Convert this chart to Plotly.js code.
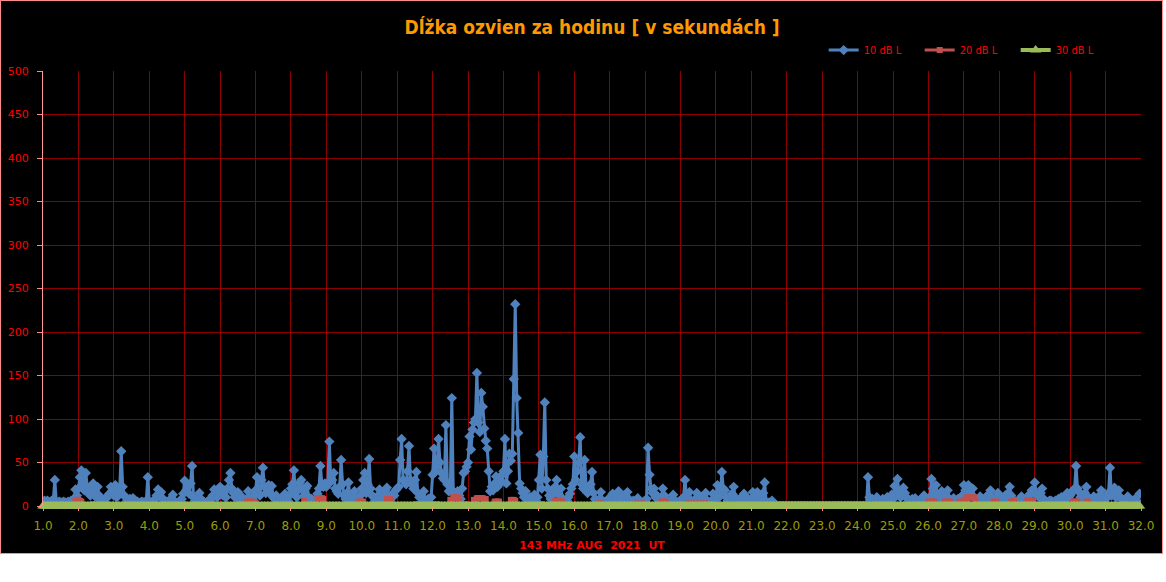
<!DOCTYPE html>
<html>
<head>
<meta charset="utf-8">
<script src="https://cdn.plot.ly/plotly-3.0.1.min.js"></script>
<style>
  html, body { margin: 0; padding: 0; background: #ffffff; }
  #plot { width: 1161px; height: 552px; border: 1px solid #ff8a8a; background: #000; }
</style>
</head>
<body>
<div id="plot"></div>
<script>
// ---- Data: hourly echo durations (seconds), August 2021, 143 MHz ----
const firstDay = 1;
const hoursPerDay = 24;
const seriesNames = ["10 dB L", "20 dB L", "30 dB L"];

// 10 dB L, one array per day (24 hourly values, 00-23 UT)
const d01 = [5,6,5,6,4,5,6,7,30,5,4,5,4,4,5,4,3,5,4,6,5,8,19,12];
const d02 = [20,33,41,25,18,38,22,15,12,23,26,14,10,22,12,8,5,6,4,9,12,14,22,18];
const d03 = [12,24,10,16,20,63,22,12,10,6,5,8,6,9,7,4,5,3,4,5,4,3,6,33];
const d04 = [5,4,3,6,8,12,19,14,16,9,6,4,5,3,6,9,13,5,4,3,5,6,8,14];
const d05 = [29,18,24,14,26,46,10,6,5,8,15,8,4,5,3,4,6,5,8,12,19,14,10,16];
const d06 = [22,15,12,18,10,20,30,38,20,15,10,12,16,8,6,10,5,4,8,17,6,5,8,12];
const d07 = [18,33,20,12,30,44,22,15,20,24,14,23,10,8,12,6,5,8,4,6,14,10,6,12];
const d08 = [20,25,41,15,10,20,27,30,18,12,20,23,10,6,8,5,6,9,14,20,46,24,22,26];
const d09 = [22,26,74,28,30,38,20,17,14,22,53,25,12,8,15,27,10,6,8,17,6,5,8,12];
const d10 = [20,30,38,15,25,54,20,12,10,6,8,12,19,10,6,12,18,21,12,6,10,14,12,18];
const d11 = [20,22,53,77,30,28,25,40,69,30,25,20,30,39,15,10,12,8,17,6,5,8,4,10];
const d12 = [36,66,40,45,77,50,38,32,30,93,25,17,18,124,17,15,10,17,12,8,20,38,40,45];
const d13 = [50,80,65,88,96,100,153,96,85,130,114,89,75,66,40,17,22,18,26,34,22,30,34,28];
const d14 = [40,77,26,40,60,52,60,146,232,124,84,26,20,15,10,17,8,6,10,5,8,13,6,10];
const d15 = [30,59,20,57,119,30,20,12,8,12,18,22,30,15,12,20,8,5,4,6,10,14,20,25];
const d16 = [57,30,40,50,79,25,20,53,22,15,20,25,39,15,8,6,5,8,16,6,5,4,5,8];
const d17 = [6,10,14,8,5,10,17,12,6,8,12,10,16,8,5,4,6,5,3,9,5,4,3,5];
const d18 = [5,8,67,36,20,15,20,10,12,8,6,10,20,12,8,6,5,4,8,13,6,5,4,5];
const d19 = [6,8,10,30,12,8,16,6,5,4,8,15,6,5,10,6,8,15,6,5,4,6,14,8];
const d20 = [12,24,10,15,39,20,18,10,6,8,12,14,22,10,6,5,8,6,4,14,6,5,8,6];
const d21 = [8,16,10,6,16,8,5,10,15,27,5,3,4,2,6,3,2,0,0,0,0,0,0,0];
const d22 = [0,0,0,0,0,0,0,0,0,0,0,0,0,0,0,0,0,0,0,0,0,0,0,0];
const d23 = [0,0,0,0,0,0,0,0,0,0,0,0,0,0,0,0,0,0,0,0,0,0,0,0];
const d24 = [0,0,0,0,0,0,0,33,10,6,8,5,7,10,6,4,5,8,6,4,10,6,5,13];
const d25 = [8,23,12,31,15,10,12,21,15,10,8,6,5,8,6,9,5,4,6,8,10,12,6,8];
const d26 = [6,10,31,20,15,24,12,8,10,17,8,6,12,18,8,6,5,9,4,6,8,5,10,12];
const d27 = [24,18,20,24,15,12,20,10,8,6,5,11,6,5,8,10,12,8,18,10,6,5,8,15];
const d28 = [8,6,5,10,12,8,15,22,12,8,6,5,4,6,8,11,6,5,8,10,12,14,18,15];
const d29 = [27,15,12,10,15,20,8,6,5,4,6,6,5,4,6,5,8,6,10,8,6,12,15,10];
const d30 = [12,15,18,20,46,20,16,10,8,12,15,22,10,6,8,5,11,6,5,8,12,18,10,6];
const d31 = [8,10,15,44,12,15,21,10,12,18,10,8,6,5,6,11,5,4,6,5,8,6,4,14];

// 20 dB L: hours of month (0-based) with a non-zero value, and those values
const redHours = [22,23,24,25,26,34,36,70,95,138,139,140,141,142,143,144,162,163,177,186,187,188,189,190,
  214,215,216,217,233,234,235,236,253,267,276,277,278,279,280,281,282,286,292,293,294,295,296,297,298,299,300,
  306,307,308,309,317,318,319,320,331,334,338,347,348,349,350,351,352,377,378,402,406,419,420,421,422,
  437,440,443,447,449,560,563,585,600,601,602,603,604,611,612,613,614,615,621,622,623,624,625,626,628,629,630,631,632,
  644,645,646,656,657,658,667,668,669,670,671,698,699,700,701,707,708,709,716,737,741];
const redVals  = [6,7,7,6,5,2,2,2,2,5,5,5,5,5,4,4,2,2,6,9,9,9,9,8,
  5,5,5,5,8,8,8,7,2,2,7,7,10,10,10,10,9,2,7,7,9,9,9,9,9,8,8,
  5,5,5,5,7,7,7,6,2,2,2,6,6,6,6,6,5,3,3,3,3,5,5,5,4,
  3,3,3,3,3,2,2,2,5,5,5,5,5,5,5,5,5,5,5,5,5,6,6,10,10,10,10,10,
  5,5,5,5,5,5,6,6,6,6,6,5,5,5,5,5,5,5,2,2,2];

// 30 dB L: zero in every hour of the month
const s30 = [
  0,0,0,0,0,0,0,0,0,0,0,0,0,0,0,0,0,0,0,0,0,0,0,0, 0,0,0,0,0,0,0,0,0,0,0,0,0,0,0,0,0,0,0,0,0,0,0,0,
  0,0,0,0,0,0,0,0,0,0,0,0,0,0,0,0,0,0,0,0,0,0,0,0, 0,0,0,0,0,0,0,0,0,0,0,0,0,0,0,0,0,0,0,0,0,0,0,0,
  0,0,0,0,0,0,0,0,0,0,0,0,0,0,0,0,0,0,0,0,0,0,0,0, 0,0,0,0,0,0,0,0,0,0,0,0,0,0,0,0,0,0,0,0,0,0,0,0,
  0,0,0,0,0,0,0,0,0,0,0,0,0,0,0,0,0,0,0,0,0,0,0,0, 0,0,0,0,0,0,0,0,0,0,0,0,0,0,0,0,0,0,0,0,0,0,0,0,
  0,0,0,0,0,0,0,0,0,0,0,0,0,0,0,0,0,0,0,0,0,0,0,0, 0,0,0,0,0,0,0,0,0,0,0,0,0,0,0,0,0,0,0,0,0,0,0,0,
  0,0,0,0,0,0,0,0,0,0,0,0,0,0,0,0,0,0,0,0,0,0,0,0, 0,0,0,0,0,0,0,0,0,0,0,0,0,0,0,0,0,0,0,0,0,0,0,0,
  0,0,0,0,0,0,0,0,0,0,0,0,0,0,0,0,0,0,0,0,0,0,0,0, 0,0,0,0,0,0,0,0,0,0,0,0,0,0,0,0,0,0,0,0,0,0,0,0,
  0,0,0,0,0,0,0,0,0,0,0,0,0,0,0,0,0,0,0,0,0,0,0,0, 0,0,0,0,0,0,0,0,0,0,0,0,0,0,0,0,0,0,0,0,0,0,0,0,
  0,0,0,0,0,0,0,0,0,0,0,0,0,0,0,0,0,0,0,0,0,0,0,0, 0,0,0,0,0,0,0,0,0,0,0,0,0,0,0,0,0,0,0,0,0,0,0,0,
  0,0,0,0,0,0,0,0,0,0,0,0,0,0,0,0,0,0,0,0,0,0,0,0, 0,0,0,0,0,0,0,0,0,0,0,0,0,0,0,0,0,0,0,0,0,0,0,0,
  0,0,0,0,0,0,0,0,0,0,0,0,0,0,0,0,0,0,0,0,0,0,0,0, 0,0,0,0,0,0,0,0,0,0,0,0,0,0,0,0,0,0,0,0,0,0,0,0,
  0,0,0,0,0,0,0,0,0,0,0,0,0,0,0,0,0,0,0,0,0,0,0,0, 0,0,0,0,0,0,0,0,0,0,0,0,0,0,0,0,0,0,0,0,0,0,0,0,
  0,0,0,0,0,0,0,0,0,0,0,0,0,0,0,0,0,0,0,0,0,0,0,0, 0,0,0,0,0,0,0,0,0,0,0,0,0,0,0,0,0,0,0,0,0,0,0,0,
  0,0,0,0,0,0,0,0,0,0,0,0,0,0,0,0,0,0,0,0,0,0,0,0, 0,0,0,0,0,0,0,0,0,0,0,0,0,0,0,0,0,0,0,0,0,0,0,0,
  0,0,0,0,0,0,0,0,0,0,0,0,0,0,0,0,0,0,0,0,0,0,0,0, 0,0,0,0,0,0,0,0,0,0,0,0,0,0,0,0,0,0,0,0,0,0,0,0,
  0,0,0,0,0,0,0,0,0,0,0,0,0,0,0,0,0,0,0,0,0,0,0,0
];

const xTickVals = [1,2,3,4,5,6,7,8,9,10,11,12,13,14,15,16,17,18,19,20,21,22,23,24,25,26,27,28,29,30,31,32];
const xTickText = ["1.0","2.0","3.0","4.0","5.0","6.0","7.0","8.0","9.0","10.0","11.0","12.0","13.0","14.0","15.0","16.0",
  "17.0","18.0","19.0","20.0","21.0","22.0","23.0","24.0","25.0","26.0","27.0","28.0","29.0","30.0","31.0","32.0"];
const yTickVals = [0,50,100,150,200,250,300,350,400,450,500];

// ---- Build series ----
const s10 = [].concat(d01,d02,d03,d04,d05,d06,d07,d08,d09,d10,d11,d12,d13,d14,d15,d16,
  d17,d18,d19,d20,d21,d22,d23,d24,d25,d26,d27,d28,d29,d30,d31);
const xs = s10.map((_, h) => firstDay + h / hoursPerDay);
const s20 = s10.map(() => 0);
redHours.forEach((h, i) => { s20[h] = redVals[i]; });

const traces = [
  { x: xs, y: s10, name: seriesNames[0], type: 'scatter', mode: 'lines+markers', cliponaxis: true,
    line: { color: '#4F81BD', width: 3 }, marker: { symbol: 'diamond', size: 8, color: '#4F81BD' } },
  { x: xs, y: s20, name: seriesNames[1], type: 'scatter', mode: 'lines+markers', cliponaxis: true,
    line: { color: '#C0504D', width: 3 }, marker: { symbol: 'square', size: 6, color: '#C0504D' } },
  { x: xs, y: s30, name: seriesNames[2], type: 'scatter', mode: 'lines+markers', cliponaxis: false,
    line: { color: '#9BBB59', width: 4 }, marker: { symbol: 'triangle-up', size: 10, color: '#9BBB59' } }
];

const layout = {
  width: 1161, height: 552,
  paper_bgcolor: '#000000', plot_bgcolor: '#000000',
  margin: { l: 42, r: 21, t: 70, b: 47 },
  title: { text: '<b>Dĺžka ozvien za hodinu [ v sekundách ]</b>',
    font: { family: 'Liberation Sans Narrow, DejaVu Sans Condensed, sans-serif', size: 19, color: '#FF9900' },
    x: 0.5, xanchor: 'center', xref: 'paper', y: 0.952, yanchor: 'middle', yref: 'container' },
  showlegend: true,
  legend: { orientation: 'h', x: 0.711, xanchor: 'left', y: 1.048, yanchor: 'middle',
    font: { family: 'Liberation Sans Narrow, DejaVu Sans Condensed, sans-serif', size: 11, color: '#FF0000' },
    bgcolor: 'rgba(0,0,0,0)', entrywidth: 51, entrywidthmode: 'pixels', itemwidth: 30 },
  xaxis: {
    range: [1, 32], tickvals: xTickVals, ticktext: xTickText,
    showgrid: true, gridcolor: '#8B0000', gridwidth: 1, zeroline: false,
    showline: false, ticks: 'outside', ticklen: 4, tickcolor: '#ff8a8a',
    ticklabelstandoff: 5,
    tickfont: { family: 'DejaVu Sans, sans-serif', size: 12, color: '#9C9C00' },
    title: { text: '<b>143 MHz AUG  2021  UT</b>', standoff: 8,
      font: { family: 'DejaVu Sans, sans-serif', size: 11, color: '#FF0000' } }
  },
  yaxis: {
    range: [0, 500], tickvals: yTickVals,
    showgrid: true, gridcolor: '#8B0000', gridwidth: 1, zeroline: false,
    showline: true, linecolor: '#ff9a9a', linewidth: 1,
    ticks: 'outside', ticklen: 5, tickcolor: '#ff8a8a',
    ticklabelstandoff: 6,
    tickfont: { family: 'DejaVu Sans, sans-serif', size: 11, color: '#FF0000' }
  }
};

Plotly.newPlot('plot', traces, layout, { displayModeBar: false, staticPlot: true });
</script>
</body>
</html>
